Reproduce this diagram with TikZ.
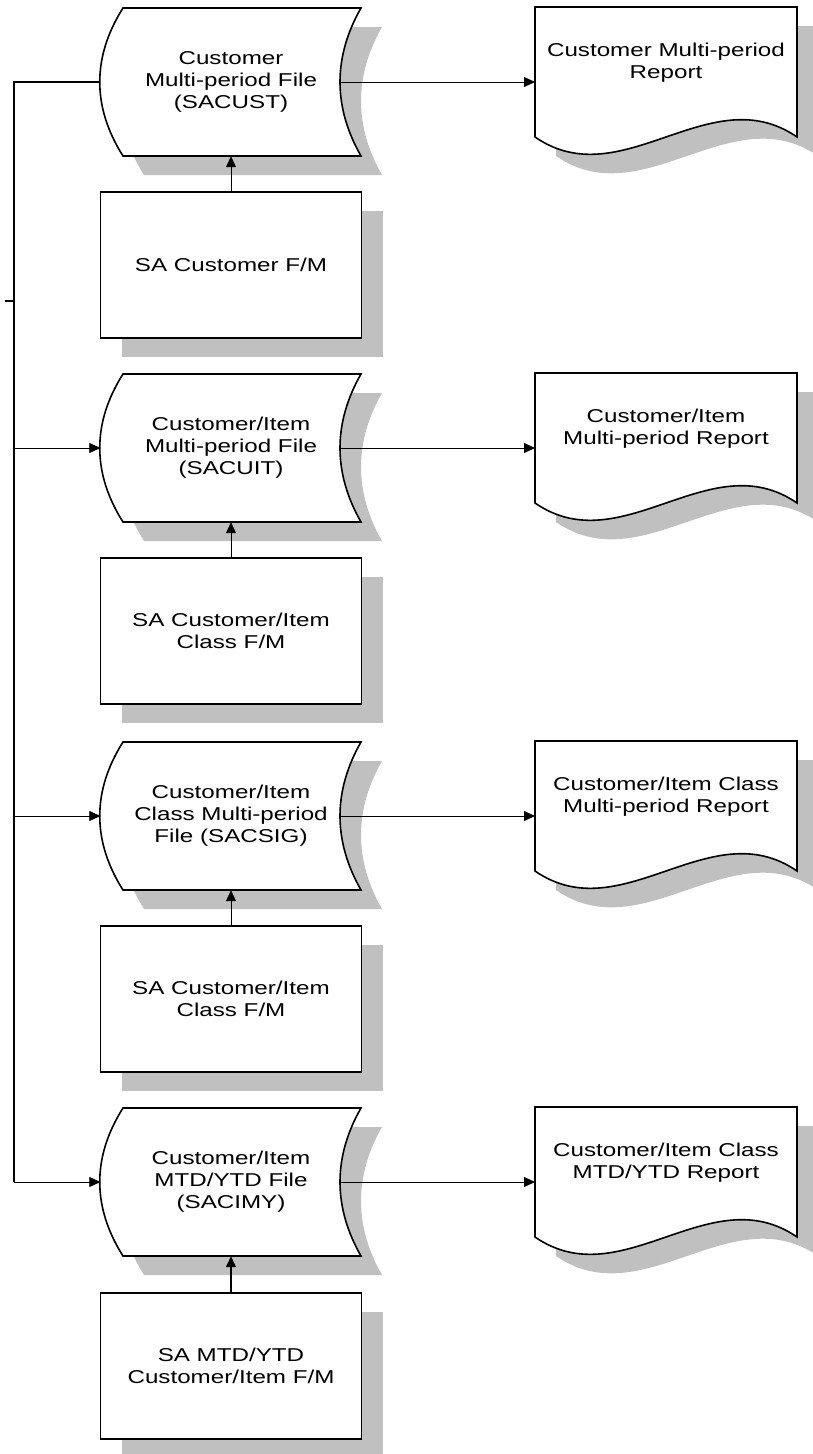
\documentclass[tikz,border=0pt]{standalone}
\usepackage{fontspec}
\setmainfont{Liberation Sans}[FakeStretch=1.3]
\usepackage{xcolor}
\usetikzlibrary{arrows.meta,shadows}
\definecolor{shade}{RGB}{192,192,192}

\tikzset{
	shapeline/.style={draw=black,line width=1.6pt,fill=white},
	shadebox/.style={drop shadow={shadow xshift=21pt,shadow yshift=-19pt,fill=shade,opacity=1}},
	txt/.style={align=center,font=\fontsize{18.6}{22}\selectfont},
	fmbox/.style={shapeline,shadebox,txt,minimum width=261pt,minimum height=146pt},
	link/.style={line width=0.8pt,-{Triangle[length=11pt,width=10pt]}},
	busline/.style={line width=1.5pt}
}

% stored data: name, x, y, text
\newcommand{\storefile}[4]{%
	\draw[shapeline,shadebox,shift={(#2,#3)}] (-108,-74) -- (130,-74)
		.. controls (102,-25) and (102,25) .. (130,74) -- (-108,74)
		.. controls (-139,25) and (-139,-25) .. cycle;
	\node[txt,minimum width=261pt,minimum height=148pt] (#1) at (#2,#3) {#4};
	\coordinate (#1-out) at (#2+109,#3);
}
% report: name, x, y, text
\newcommand{\reportdoc}[4]{%
	\draw[shapeline,shadebox,shift={(#2,#3)}] (-131,-75) -- (131,-75) -- (131,55)
		.. controls (44,-5) and (-44,115) .. (-131,55) -- cycle;
	\node[txt] (#1) at (#2,#3-19) {#4};
	\coordinate (#1-in) at (#2-131,#3);
}

\begin{document}
\begin{tikzpicture}[x=1pt,y=-1pt]
	\useasboundingbox (0,0) rectangle (813,1454);

	\storefile{cust}{231}{82}{Customer\\Multi-period File\\(SACUST)}
	\reportdoc{custrep}{666}{82}{Customer Multi-period\\Report}
	\node[fmbox] (custfm) at (231,265) {SA Customer F/M};

	\storefile{cuit}{231}{448}{Customer/Item\\Multi-period File\\(SACUIT)}
	\reportdoc{cuitrep}{666}{448}{Customer/Item\\Multi-period Report}
	\node[fmbox] (cuitfm) at (231,631) {SA Customer/Item\\Class F/M};

	\storefile{csig}{231}{816}{Customer/Item\\Class Multi-period\\File (SACSIG)}
	\reportdoc{csigrep}{666}{816}{Customer/Item Class\\Multi-period Report}
	\node[fmbox] (csigfm) at (231,999) {SA Customer/Item\\Class F/M};

	\storefile{cimy}{231}{1182}{Customer/Item\\MTD/YTD File\\(SACIMY)}
	\reportdoc{cimyrep}{666}{1182}{Customer/Item Class\\MTD/YTD Report}
	\node[fmbox] (cimyfm) at (231,1366) {SA MTD/YTD\\Customer/Item F/M};

	% left bus
	\coordinate (bustop) at (14,82);
	\coordinate (busend) at (14,1182);
	\coordinate (tick) at (5,301);
	\draw[busline] (cust.west) -- (bustop) -- (busend);
	\draw[busline] (tick) -- (tick -| bustop);
	\draw[link] (cuit.west -| bustop) -- (cuit.west);
	\draw[link] (csig.west -| bustop) -- (csig.west);
	\draw[link] (busend) -- (cimy.west);

	\draw[link] (cust-out) -- (custrep-in);
	\draw[link] (cuit-out) -- (cuitrep-in);
	\draw[link] (csig-out) -- (csigrep-in);
	\draw[link] (cimy-out) -- (cimyrep-in);

	\draw[link] (custfm) -- (cust.south);
	\draw[link] (cuitfm) -- (cuit.south);
	\draw[link] (csigfm) -- (csig.south);
	\draw[link,line width=1.5pt] (cimyfm) -- (cimy.south);
\end{tikzpicture}
\end{document}
